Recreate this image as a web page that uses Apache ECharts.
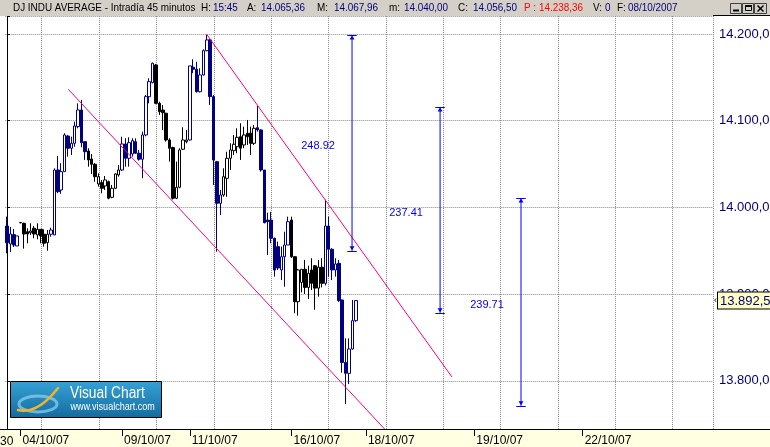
<!DOCTYPE html>
<html><head><meta charset="utf-8">
<script src="https://cdn.jsdelivr.net/npm/echarts@6/dist/echarts.min.js"></script>
<style>html,body{margin:0;padding:0;background:#fff}#c{width:770px;height:447px}</style>
</head><body><div id="c"></div>
<script>
// 45-minute bars, each [open, close, low, high]
const bars = [
[13978.5,13959.3,13947.1,13989.3],[13957.8,13969.3,13948.5,13977.4],[13968.5,13956.6,13954.3,13975.1],[13955.5,13967.0,13955.5,13967.0],
[13982.5,13982.3,13981.5,13983.0],[13981.6,13969.3,13952.4,13982.3],[13971.9,13969.3,13958.6,13975.9],[13970.8,13972.8,13968.2,13981.6],
[13975.9,13969.3,13964.4,13978.5],[13968.2,13974.7,13963.2,13981.6],[13974.7,13967.0,13958.6,13974.7],[13969.0,13958.6,13954.7,13974.7],
[13959.3,13969.0,13950.0,13973.9],[13969.0,13973.9,13966.2,13976.6],[13968.2,14043.1,13968.2,14045.0],[14043.1,14018.1,14016.3,14059.3],
[14020.0,14041.2,14015.7,14050.9],[14041.2,14083.5,14041.2,14085.5],[14082.3,14068.2,14058.5,14083.5],[14068.2,14073.9,14060.4,14081.5],
[14073.9,14093.9,14070.0,14098.8],[14093.1,14112.3,14091.2,14120.0],[14112.3,14074.6,14069.3,14123.9],[14075.8,14064.2,14054.7,14075.8],
[14065.0,14054.7,14046.9,14068.2],[14055.8,14049.7,14038.3,14061.6],[14049.7,14035.4,14029.6,14051.0],[14027.0,14035.4,14023.9,14039.3],
[14028.5,14022.0,14016.3,14031.6],[14024.7,14031.6,14020.0,14036.2],[14029.6,14010.5,14009.3,14030.8],[14011.6,14022.0,14010.5,14025.8],
[14022.0,14038.5,14021.0,14039.3],[14037.4,14043.1,14035.4,14048.9],[14043.1,14073.1,14042.0,14081.5],[14073.1,14056.6,14046.9,14079.7],
[14056.6,14074.6,14046.9,14080.8],[14061.6,14076.9,14058.5,14079.7],[14075.8,14062.4,14061.6,14079.7],[14062.4,14055.5,14053.9,14066.2],
[14055.5,14083.5,14033.5,14087.3],[14083.5,14127.7,14082.0,14129.6],[14127.7,14145.0,14120.0,14148.9],[14143.8,14166.2,14143.1,14167.0],
[14164.2,14120.0,14119.0,14165.5],[14120.0,14110.4,14106.6,14121.9],[14112.3,14109.2,14089.3,14118.1],[14108.5,14077.7,14075.8,14109.2],
[14077.7,14068.2,14052.7,14079.7],[14069.0,14010.5,14009.0,14070.0],[14010.5,14023.2,14009.5,14052.7],[14023.2,14066.2,14022.0,14068.2],
[14067.0,14077.7,14066.2,14092.4],[14075.8,14077.7,14073.9,14089.3],[14077.7,14163.1,14077.0,14163.1],[14161.6,14159.3,14154.7,14170.8],
[14159.3,14133.4,14132.3,14168.0],[14133.4,14152.7,14132.5,14160.4],[14152.7,14180.7,14152.0,14182.3],[14180.7,14193.1,14180.0,14198.8],
[14193.1,14127.7,14118.1,14194.0],[14127.7,14054.7,14025.8,14129.6],[14052.7,14004.7,13948.9,14053.5],[14004.7,14014.3,13991.2,14020.0],
[14014.3,14035.4,14012.3,14045.1],[14033.5,14056.6,14012.3,14064.2],[14056.6,14066.2,14043.1,14073.9],[14065.4,14072.8,14060.4,14083.5],
[14070.0,14080.8,14062.4,14091.2],[14081.5,14068.2,14054.7,14097.0],[14072.0,14083.5,14068.2,14093.1],[14085.5,14081.5,14072.0,14100.8],
[14085.5,14073.9,14060.4,14093.1],[14073.9,14091.2,14072.0,14095.0],[14091.9,14089.3,14087.3,14116.9],[14089.3,14043.1,14041.2,14090.0],
[14043.1,13982.3,13981.6,14043.1],[13985.4,13983.5,13945.1,13993.9],[13985.4,13964.4,13958.6,13994.8],[13964.4,13927.8,13920.1,13965.0],
[13954.7,13930.1,13927.8,13960.5],[13927.8,13943.1,13916.2,13954.7],[13943.1,13956.6,13908.5,13971.9],[13956.6,13983.5,13956.6,13989.3],
[13985.4,13943.1,13941.6,13989.3],[13943.1,13891.2,13877.9,13944.0],[13891.2,13927.8,13875.1,13929.0],[13913.5,13928.6,13902.0,13929.0],
[13928.6,13907.7,13900.1,13939.4],[13907.7,13924.0,13894.4,13932.8],[13927.8,13912.4,13904.7,13941.3],[13932.6,13906.9,13881.9,13933.5],
[13906.9,13931.0,13897.0,13939.4],[13931.0,13912.4,13907.7,13941.3],[13912.4,13978.5,13910.0,14008.9],[13978.5,13951.7,13920.1,13989.3],
[13951.7,13927.8,13916.2,13952.9],[13927.8,13934.7,13920.1,13941.3],[13935.5,13892.4,13891.0,13939.4],[13893.2,13821.1,13809.3,13893.5],
[13821.1,13808.6,13773.3,13848.9],[13808.6,13836.7,13796.3,13848.9],[13836.7,13869.3,13836.0,13893.2],[13869.3,13892.5,13868.0,13893.2]
];
// session colour group of each bar: b = blue session, k = black session
const barSession = 'bbbbkkkkkkkkkbbbbbbbbbbbkkkkkkkkkkbbbbbbbbbbkkkkkkkkkkbbbbbbbbbbkkkkkkkkkkbbbbbbbbbbkkkkkkkkkkbbbbbbbbbb';
const slotCount = 209;               // bar slots on the time axis (incl. empty future)
const dateLabels = {4:'04/10/07',34:'09/10/07',54:'11/10/07',84:'16/10/07',106:'18/10/07',138:'19/10/07',170:'22/10/07'};
const lastPrice = 13892.5;
// channel lines, [bar slot, price]
const channelUpper = [[58.9,14200.0],[131.4,13804.4]];
const channelLower = [[18.1,14136.2],[113.0,13738.1]];
// measured swings
const measX = [101.9,127.9,151.8];
const measTop = [14198.80,14115.80,14010.80];
const measBottom = [13949.88,13878.39,13771.09];
// header fields
const headerName = 'DJ INDU AVERAGE - Intradía 45 minutos';
const headerFields = [['H:','15:45'],['A:','14.065,36'],['M:','14.067,96'],['m:','14.040,00'],['C:','14.056,50'],['P :','14.238,36'],['V:','0'],['F:','08/10/2007']];

const NAVY = '#000080';
const FONT = '"Liberation Sans", Arial, sans-serif';
function fmtPrice(v, d) {
  const s = v.toFixed(d); const p = s.split('.');
  const i = p[0].replace(/\B(?=(\d{3})+(?!\d))/g, '.');
  return p[1] ? i + ',' + p[1] : i;
}
const slots = Array.from({length: slotCount}, (_, i) => String(i));
const empty = ['-','-','-','-'];
const blueData = bars.map((b, i) => barSession[i] === 'b' ? b : empty);
const blackData = bars.map((b, i) => barSession[i] === 'k' ? b : empty);

const chart = echarts.init(document.getElementById('c'));
const CLEAR = 'rgba(0,0,0,0)';

const measSeries = measX.map((x, i) => {
  const t = measTop[i], b = measBottom[i];
  return {
    type: 'line', xAxisIndex: 1, yAxisIndex: 0, silent: true, symbol: 'none', clip: false,
    data: [[x, t], [x, b]],
    lineStyle: {color: '#0000FF', width: 1},
    itemStyle: {color: '#0000FF'},
    markLine: {silent: true, symbol: 'none', animation: false, label: {show: false},
      lineStyle: {color: '#0000FF', width: 1, type: 'solid'},
      data: [[{coord: [x - 1.4, t]}, {coord: [x + 1.4, t]}], [{coord: [x - 1.4, b]}, {coord: [x + 1.4, b]}]]},
    markPoint: {silent: true, animation: false, label: {show: false}, itemStyle: {color: '#0000FF'},
      data: [
        {coord: [x, t], symbol: 'triangle', symbolSize: [5, 4], symbolOffset: [0, 2.5]},
        {coord: [x, b], symbol: 'triangle', symbolSize: [5, 4], symbolRotate: 180, symbolOffset: [0, -2.5]},
        {coord: [x, (t + b) / 2], symbol: 'circle', symbolSize: 2, itemStyle: {color: CLEAR},
          label: {show: true, position: 'inside', offset: [-34, 3.5], formatter: (t - b).toFixed(2), color: '#0000FF', fontSize: 11, fontFamily: FONT}}
      ]}
  };
});

// header graphics
const hdr = [{type: 'rect', shape: {x: 0, y: 0, width: 770, height: 16}, style: {fill: '#D4D0C8'}, z: 50}];
const hdrX = [[201,213],[247,261],[317,334],[389,404],[458,473],[524,539],[593,605],[617,628]];
const HFONT = '11px ' + FONT;
hdr.push({type: 'text', x: 13, y: 8, scaleX: 0.9, z: 51, style: {text: headerName, fill: '#000', font: HFONT, verticalAlign: 'middle'}});
headerFields.forEach((f, i) => {
  const red = f[0] === 'P :';
  hdr.push({type: 'text', x: hdrX[i][0], y: 8, scaleX: 0.9, z: 51, style: {text: f[0], fill: red ? '#FF0000' : '#000', font: HFONT, verticalAlign: 'middle'}});
  hdr.push({type: 'text', x: hdrX[i][1], y: 8, scaleX: 0.9, z: 51, style: {text: f[1], fill: red ? '#FF0000' : NAVY, font: HFONT, verticalAlign: 'middle'}});
});
// window buttons
[[730,3,11,10],[742,3,11,10],[754,3,12,10]].forEach(r => hdr.push({type: 'rect', z: 51, shape: {x: r[0] + 0.5, y: r[1] + 0.5, width: r[2], height: r[3]}, style: {fill: '#D4D0C8', stroke: '#404040', lineWidth: 1}}));
hdr.push({type: 'line', z: 52, shape: {x1: 733, y1: 10.5, x2: 739, y2: 10.5}, style: {stroke: '#000', lineWidth: 2}});
hdr.push({type: 'rect', z: 52, shape: {x: 745.5, y: 5.5, width: 6, height: 5}, style: {fill: 'none', stroke: '#000', lineWidth: 1}});
hdr.push({type: 'line', z: 52, shape: {x1: 745.5, y1: 6, x2: 751.5, y2: 6}, style: {stroke: '#000', lineWidth: 2}});
hdr.push({type: 'line', z: 52, shape: {x1: 757.5, y1: 5.5, x2: 763.5, y2: 11.5}, style: {stroke: '#000', lineWidth: 1.5}});
hdr.push({type: 'line', z: 52, shape: {x1: 763.5, y1: 5.5, x2: 757.5, y2: 11.5}, style: {stroke: '#000', lineWidth: 1.5}});
hdr.push({type: 'line', z: 52, shape: {x1: 713, y1: 15.5, x2: 770, y2: 15.5}, style: {stroke: '#000', lineWidth: 1}});
// bottom band
hdr.push({type: 'rect', shape: {x: 0, y: 430, width: 770, height: 17}, style: {fill: '#FFFFE1'}, z: -1});
hdr.push({type: 'line', shape: {x1: 0, y1: 429.5, x2: 770, y2: 429.5}, style: {stroke: '#000', lineWidth: 1}, z: 5});
hdr.push({type: 'text', x: 0, y: 441.5, style: {text: '30', fill: '#000', font: '12px ' + FONT, verticalAlign: 'middle'}});
// logo
hdr.push({type: 'group', z: 100, children: [
  {type: 'rect', z: 100, shape: {x: 10.5, y: 381.5, width: 151, height: 36}, style: {fill: new echarts.graphic.LinearGradient(0, 0, 0, 1, [{offset: 0, color: '#36A2D6'}, {offset: 1, color: '#146B9E'}]), stroke: '#000', lineWidth: 1}},
  {type: 'ellipse', z: 101, shape: {cx: 38, cy: 404, rx: 19, ry: 8}, style: {fill: 'none', stroke: '#8FD3F2', lineWidth: 3, opacity: 0.7}},
  {type: 'bezierCurve', z: 102, shape: {x1: 18, y1: 410, cpx1: 30, cpy1: 413, cpx2: 44, cpy2: 406, x2: 58, y2: 388}, style: {fill: 'none', stroke: '#F6B22A', lineWidth: 2.5, lineCap: 'round'}},
  {type: 'text', z: 102, x: 70, y: 394, scaleX: 0.86, style: {text: 'Visual Chart', fill: '#fff', font: '16px ' + FONT, verticalAlign: 'middle'}},
  {type: 'text', z: 102, x: 70.5, y: 407, scaleX: 0.86, style: {text: 'www.visualchart.com', fill: '#fff', font: '10.5px ' + FONT, verticalAlign: 'middle'}}
]});

const option = {
  animation: false,
  backgroundColor: '#fff',
  grid: [
    {left: 5.3, right: 57, top: 16, bottom: 18, containLabel: false, outerBoundsMode: 'none'},
    {left: 41.7, right: 57, top: 16, bottom: 18, containLabel: false, outerBoundsMode: 'none'}
  ],
  xAxis: [
    {type: 'category', gridIndex: 0, data: slots, boundaryGap: true,
      axisLine: {show: false},
      axisTick: {show: true, alignWithLabel: true, length: 7, interval: (i) => (i in dateLabels), lineStyle: {color: '#000'}},
      axisLabel: {show: true, interval: (i) => (i in dateLabels), formatter: (v, i) => dateLabels[i] || '', align: 'left', padding: [0, 0, 0, 2], margin: 6, color: '#000', fontSize: 12, fontFamily: FONT, hideOverlap: false},
      splitLine: {show: false}},
    {type: 'value', gridIndex: 0, min: -0.5, max: slotCount - 0.5, show: false},
    {type: 'value', gridIndex: 1, min: 0, max: (713 - 41.7) / 57.35, interval: 1,
      axisLine: {show: false}, axisTick: {show: false}, axisLabel: {show: false},
      splitLine: {show: true, lineStyle: {color: '#8A8A8A', width: 1, type: 'dotted'}}}
  ],
  yAxis: [
    {type: 'value', gridIndex: 0, position: 'right', min: 13744.4, max: 14220.7, splitNumber: 5, minInterval: 100, maxInterval: 100,
      axisLine: {show: true, lineStyle: {color: '#000'}},
      axisTick: {show: true, length: 3, lineStyle: {color: '#000'}},
      axisLabel: {show: true, margin: 6, color: NAVY, fontSize: 13, fontFamily: FONT, align: 'left', hideOverlap: false,
        formatter: (v) => (Math.abs(v / 100 - Math.round(v / 100)) < 1e-6 ? fmtPrice(v, 2) : '')},
      splitLine: {show: true, lineStyle: {color: '#8A8A8A', width: 1, type: 'dotted'}}},
    {type: 'value', gridIndex: 1, min: 0, max: 1, show: false}
  ],
  graphic: {elements: hdr},
  series: [
    {type: 'line', xAxisIndex: 2, yAxisIndex: 1, data: [[0, -1]], symbol: 'none', silent: true},
    {name: 'blue', type: 'candlestick', xAxisIndex: 0, yAxisIndex: 0, data: blueData, barWidth: 3, silent: true,
      itemStyle: {color: '#fff', color0: NAVY, borderColor: NAVY, borderColor0: NAVY, borderWidth: 1},
      markLine: {silent: true, symbol: 'none', animation: false, lineStyle: {width: 0, color: CLEAR},
        data: [{yAxis: lastPrice}],
        label: {show: true, position: 'end', distance: 1, formatter: '{a|‹}{b|' + fmtPrice(lastPrice, 1) + '}',
          rich: {a: {fontSize: 9, color: '#000', padding: [0, 1, 0, 0], fontFamily: FONT},
                 b: {backgroundColor: '#FFFFC0', borderColor: '#000', borderWidth: 1, padding: [2, 2, 1, 2], color: NAVY, fontSize: 13, lineHeight: 13, fontFamily: FONT}}}}},
    {name: 'black', type: 'candlestick', xAxisIndex: 0, yAxisIndex: 0, data: blackData, barWidth: 3, silent: true,
      itemStyle: {color: '#fff', color0: '#000', borderColor: '#000', borderColor0: '#000', borderWidth: 1}},
    {type: 'line', xAxisIndex: 1, yAxisIndex: 0, data: channelUpper, symbol: 'none', silent: true, lineStyle: {color: '#FF0080', width: 1}},
    {type: 'line', xAxisIndex: 1, yAxisIndex: 0, data: channelLower, symbol: 'none', silent: true, lineStyle: {color: '#FF0080', width: 1}}
  ].concat(measSeries)
};
chart.setOption(option);
</script>
</body></html>
